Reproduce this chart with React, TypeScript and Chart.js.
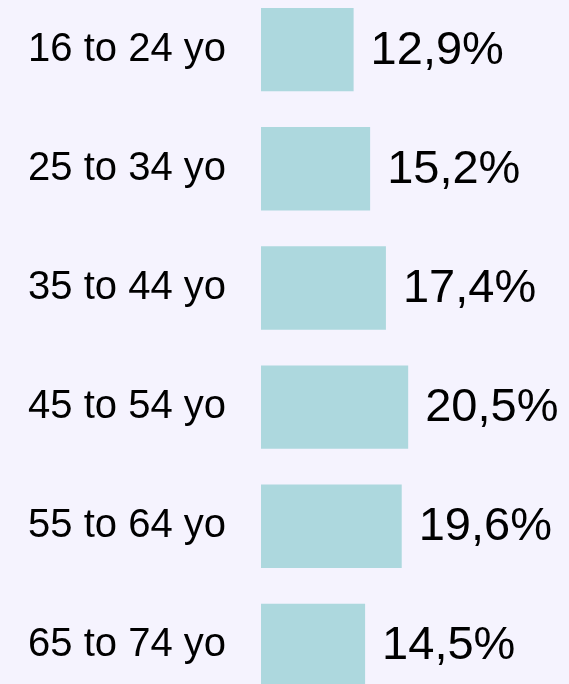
import React, { useEffect, useRef } from "react";
import { Chart, registerables } from "chart.js";

Chart.register(...registerables);

const categories = ["16 to 24 yo", "25 to 34 yo", "35 to 44 yo", "45 to 54 yo", "55 to 64 yo", "65 to 74 yo"];
const values = [12.9, 15.2, 17.4, 20.5, 19.6, 14.5];
const valueLabels = ["12,9%", "15,2%", "17,4%", "20,5%", "19,6%", "14,5%"];

const BG = "#F5F3FE";
const BAR = "#ADD8DE";

const valueLabelPlugin = {
  id: "valueLabels",
  afterDatasetsDraw(chart: any) {
    const ctx = chart.ctx;
    const meta = chart.getDatasetMeta(0);
    ctx.save();
    ctx.font = "47px Arial, 'Liberation Sans', sans-serif";
    ctx.fillStyle = "#000000";
    ctx.textAlign = "left";
    ctx.textBaseline = "middle";
    meta.data.forEach((bar: any, i: number) => {
      ctx.fillText(valueLabels[i], bar.x + 17, bar.y + 1);
    });
    ctx.restore();
  },
};

export default function App() {
  const ref = useRef<HTMLCanvasElement | null>(null);

  useEffect(() => {
    document.body.style.margin = "0";
    document.body.style.background = BG;
    const canvas = ref.current;
    if (!canvas) return;
    const chart = new Chart(canvas, {
      type: "bar",
      data: {
        labels: categories,
        datasets: [
          {
            data: values,
            backgroundColor: BAR,
            borderWidth: 0,
            barPercentage: 0.7,
            categoryPercentage: 1,
          },
        ],
      },
      options: {
        indexAxis: "y",
        animation: false,
        responsive: false,
        maintainAspectRatio: false,
        layout: { padding: 0 },
        plugins: {
          legend: { display: false },
          tooltip: { enabled: false },
        },
        scales: {
          x: {
            display: false,
            min: 0,
            max: 42.9,
          },
          y: {
            offset: true,
            grid: { display: false, drawTicks: false },
            border: { display: false },
            ticks: {
              color: "#000000",
              padding: 35,
              font: { family: "Arial, 'Liberation Sans', sans-serif", size: 40 },
            },
            afterFit(scale: any) {
              scale.width = 261;
              scale.paddingTop = 0;
              scale.paddingBottom = 0;
            },
          },
        },
      },
      plugins: [valueLabelPlugin],
    });
    return () => chart.destroy();
  }, []);

  return (
    <div style={{ position: "relative", width: 569, height: 684, overflow: "hidden", background: BG }}>
      <canvas
        ref={ref}
        width={569}
        height={715}
        style={{ position: "absolute", left: 0, top: -10, width: 569, height: 715 }}
      />
    </div>
  );
}
